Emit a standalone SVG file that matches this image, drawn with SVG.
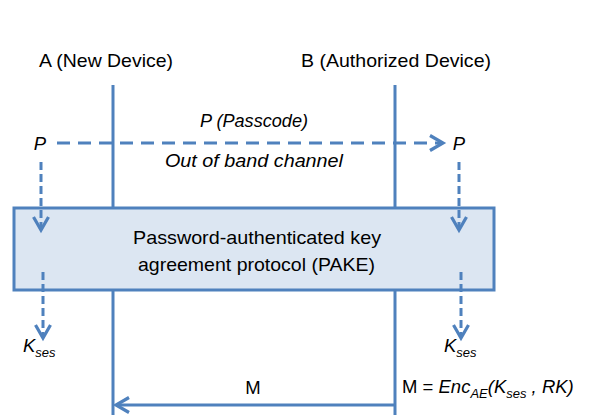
<svg xmlns="http://www.w3.org/2000/svg" width="598" height="415" viewBox="0 0 598 415">
<style>
.t{font-family:"Liberation Sans",Arial,sans-serif;font-size:18.5px;fill:#000}
.i{font-style:italic}
.ln{stroke:#4f81bd;stroke-width:3;fill:none}
.dh{stroke-dasharray:13 8}
.dv{stroke-dasharray:8 4}
</style>
<defs>
<marker id="chev" markerUnits="userSpaceOnUse" markerWidth="20" markerHeight="20" viewBox="-16 -10 20 20" refX="0" refY="0" orient="auto" overflow="visible">
<path d="M-13,-7.5 L0,0 L-13,7.5" fill="none" stroke="#4f81bd" stroke-width="3.2"/>
</marker>
</defs>
<rect width="598" height="415" fill="#fff"/>
<g id="lifelineA">
<text class="t" x="39" y="67" textLength="134" lengthAdjust="spacingAndGlyphs">A (New Device)</text>
<line class="ln" x1="113" y1="85" x2="113" y2="415"/>
</g>
<g id="lifelineB">
<text class="t" x="301" y="67" textLength="190" lengthAdjust="spacingAndGlyphs">B (Authorized Device)</text>
<line class="ln" x1="395" y1="85" x2="395" y2="415"/>
</g>
<g id="pake">
<rect x="14" y="208" width="480" height="82" fill="#dce6f2" stroke="#4f81bd" stroke-width="3"/>
<text class="t" x="133" y="244" textLength="248" lengthAdjust="spacingAndGlyphs">Password-authenticated key</text>
<text class="t" x="138" y="271" textLength="237" lengthAdjust="spacingAndGlyphs">agreement protocol (PAKE)</text>
</g>
<g id="labels">
<text class="t i" x="40" y="150" text-anchor="middle">P</text>
<text class="t i" x="459" y="150" text-anchor="middle">P</text>
<text class="t i" x="200" y="127" textLength="108" lengthAdjust="spacingAndGlyphs">P (Passcode)</text>
<text class="t i" x="165" y="167" textLength="178" lengthAdjust="spacingAndGlyphs">Out of band channel</text>
<text class="t i" x="23" y="352">K<tspan font-size="13" dy="5">ses</tspan></text>
<text class="t i" x="444" y="352">K<tspan font-size="13" dy="5">ses</tspan></text>
<text class="t" x="253" y="394" text-anchor="middle">M</text>
<text class="t" x="402" y="393">M = <tspan class="i">Enc</tspan><tspan class="i" font-size="13" dy="5">AE</tspan><tspan class="i" dy="-5">(K</tspan><tspan class="i" font-size="13" dy="5">ses</tspan><tspan class="i" dy="-5"> , RK)</tspan></text>
</g>
<g id="connectors">
<line class="ln dh" x1="57" y1="143" x2="443" y2="143" marker-end="url(#chev)"/>
<line class="ln dv" x1="41" y1="162" x2="41" y2="230" marker-end="url(#chev)"/>
<line class="ln dv" x1="459" y1="162" x2="459" y2="230" marker-end="url(#chev)"/>
<line class="ln dv" x1="43" y1="272" x2="43" y2="338" marker-end="url(#chev)"/>
<line class="ln dv" x1="461" y1="272" x2="461" y2="338" marker-end="url(#chev)"/>
<line class="ln" x1="395" y1="405" x2="116" y2="405" marker-end="url(#chev)"/>
</g>
</svg>
